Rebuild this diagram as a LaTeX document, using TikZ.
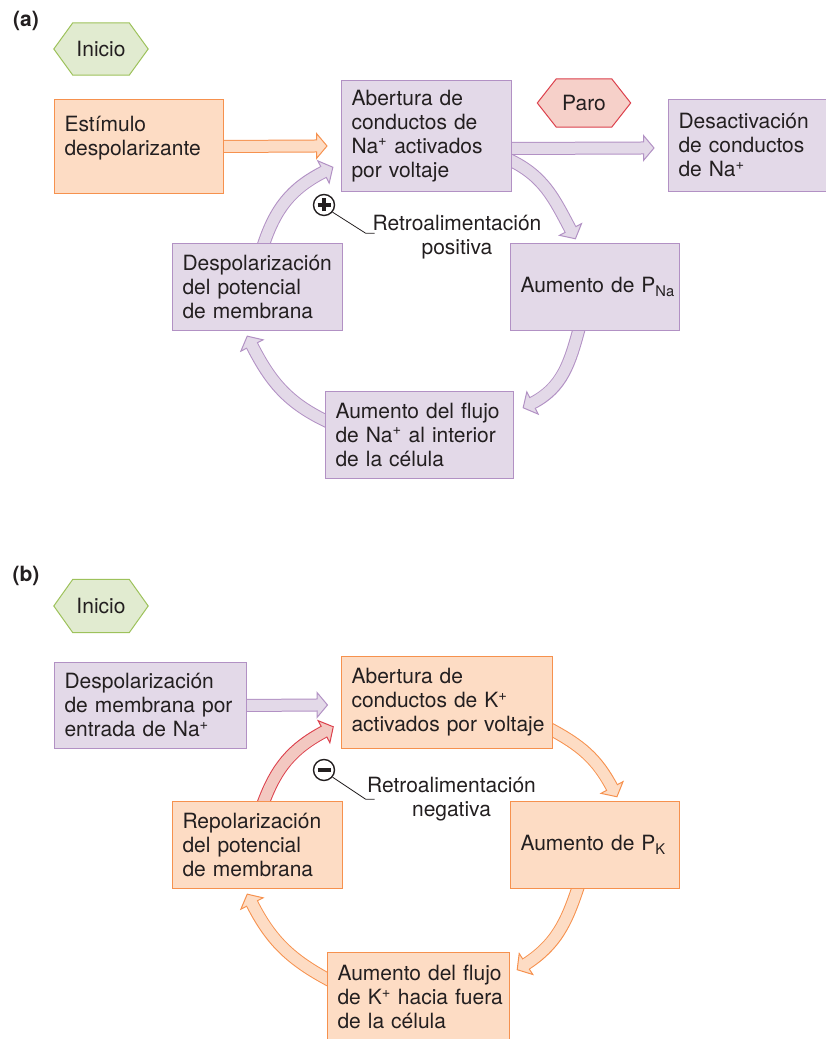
\documentclass[tikz,border=0pt]{standalone}
\usepackage{fontspec}
\setmainfont{TeX Gyre Heros}
\usetikzlibrary{backgrounds}

\definecolor{ink}{HTML}{231F20}
\definecolor{lilacfill}{HTML}{E3D9E8}
\definecolor{lilacline}{HTML}{B291C4}
\definecolor{peachfill}{HTML}{FDDCC4}
\definecolor{peachline}{HTML}{F6914E}
\definecolor{greenfill}{HTML}{E1EBD0}
\definecolor{greenline}{HTML}{9DC25B}
\definecolor{rosefill}{HTML}{F3C8C1}
\definecolor{stopfill}{HTML}{F6D0C9}
\definecolor{roseline}{HTML}{DC404C}

\hyphenpenalty=10000
\exhyphenpenalty=10000
\newcommand{\boxfont}{\fontsize{21}{24}\selectfont}

% flecha gruesa: estilo, inicio, conector, base de la punta, angulo de la punta
\newcommand{\fatarrow}[5]{%
  \draw[#1 rim, shorten <=-4pt] (#2) #3 (#4);
  \filldraw[#1 tip, shift={(#4)}, rotate=#5] (0,12.5) -- (10.5,0) -- (0,-12.5) -- cycle;
  \draw[#1 core, shorten <=-4pt, shorten >=-1.5pt] (#2) #3 (#4);
}
% contorno hexagonal alrededor de un nodo
\newcommand{\hexoutline}[3]{%
  \draw[#3] ([xshift=#2]#1.north west) -- ([xshift=-#2]#1.north east) -- (#1.east)
    -- ([xshift=-#2]#1.south east) -- ([xshift=#2]#1.south west) -- (#1.west) -- cycle;
}

\begin{document}
\begin{tikzpicture}[x=1pt, y=1pt,
  box/.style={draw, line width=1pt, anchor=north west, inner sep=0pt, align=left,
    text=ink, font=\boxfont},
  lilacbox/.style={box, fill=lilacfill, draw=lilacline},
  peachbox/.style={box, fill=peachfill, draw=peachline},
  hexlabel/.style={inner sep=0pt, text=ink, font=\boxfont},
  greenhex/.style={fill=greenfill, draw=greenline, line width=1pt, line join=miter},
  stophex/.style={fill=stopfill, draw=roseline, line width=1pt, line join=miter},
  panel/.style={inner sep=0pt, text=ink, font=\boxfont\bfseries},
  note/.style={inner sep=0pt, align=center, text=ink, font=\boxfont},
  sign/.style={circle, draw=ink, line width=1.4pt, minimum size=21pt, inner sep=0pt},
  signbar/.style={draw=ink, line width=3.2pt},
  leader/.style={draw=ink, line width=0.8pt},
  lilac rim/.style={draw=lilacline, line width=13pt},
  lilac core/.style={draw=lilacfill, line width=11pt},
  lilac tip/.style={fill=lilacfill, draw=lilacline, line width=1pt, line join=miter},
  peach rim/.style={draw=peachline, line width=13pt},
  peach core/.style={draw=peachfill, line width=11pt},
  peach tip/.style={fill=peachfill, draw=peachline, line width=1pt, line join=miter},
  rose rim/.style={draw=roseline, line width=13pt},
  rose core/.style={draw=rosefill, line width=11pt},
  rose tip/.style={fill=rosefill, draw=roseline, line width=1pt, line join=miter}]
  \useasboundingbox (0,0) rectangle (826,1039);
  \clip (0,0) rectangle (826,1039);

  % ---------- (a) ----------
  \node[panel] (lblA) at (26,1018) {(a)};
  \node[hexlabel, minimum width=94, minimum height=52] (iniA) at (101,990) {Inicio};
  \node[hexlabel, minimum width=93, minimum height=48] (paro) at (584,936) {Paro};

  \node[peachbox, minimum width=169, minimum height=94, text width=149] (estA) at (54,940)
    {Estímulo\\despolarizante\\[-3pt]\mbox{}};
  \node[lilacbox, minimum width=170, minimum height=111, text width=150] (abA) at (341,959)
    {Abertura de\\conductos de\\Na\textsuperscript{+} activados\\por voltaje};
  \node[lilacbox, minimum width=170, minimum height=92, text width=150] (desA) at (668,940)
    {Desactivación\\de conductos\\de Na\textsuperscript{+}};
  \node[lilacbox, minimum width=169, minimum height=87, text width=149] (pnaA) at (510,796)
    {\mbox{Aumento de P\textsubscript{Na}}};
  \node[lilacbox, minimum width=188, minimum height=87, text width=168] (fluA) at (325,648)
    {\mbox{Aumento del flujo}\\de Na\textsuperscript{+} al interior\\de la célula};
  \node[lilacbox, minimum width=170, minimum height=87, text width=150] (depA) at (172,796)
    {\mbox{Despolarización}\\del potencial\\de membrana};

  \node[sign] (sgnA) at (324,834) {};
  \draw[signbar] ([xshift=-6.5pt]sgnA.center) -- ([xshift=6.5pt]sgnA.center);
  \draw[signbar] ([yshift=-6.5pt]sgnA.center) -- ([yshift=6.5pt]sgnA.center);
  \node[note] (fbA) at (457,802) {Retroalimentación\\positiva};
  \draw[leader] (sgnA.-40) -- ++(33,-21) -- ++(9,0);

  % puntas y arranques de las flechas
  \coordinate (hEst) at (316.5,893);
  \coordinate (a2s) at ([yshift=-12.5pt]abA.east);
  \coordinate (hDes) at (643.5,891);
  \coordinate (a3s) at ([yshift=-25pt]abA.east);
  \coordinate (hPna) at (570.5,809.5);
  \coordinate (a4s) at ([xshift=-16.5pt]pnaA.south);
  \coordinate (hFluA) at (532.5,636);
  \coordinate (a5s) at ([yshift=14.5pt]fluA.west);
  \coordinate (hDepA) at (252,693.5);
  \coordinate (a6s) at ([xshift=6.5pt]depA.north);
  \coordinate (hAbA) at (323.5,867);

  % ---------- (b) ----------
  \node[panel] (lblB) at (26,463.5) {(b)};
  \node[hexlabel, minimum width=94, minimum height=53] (iniB) at (101,433) {Inicio};

  \node[lilacbox, minimum width=192, minimum height=86, text width=172] (depB) at (54,377)
    {Despolarización\\de membrana por\\entrada de Na\textsuperscript{+}};
  \node[peachbox, minimum width=211, minimum height=92, text width=191] (abB) at (341,383)
    {Abertura de\\conductos de K\textsuperscript{+}\\\mbox{activados por voltaje}};
  \node[peachbox, minimum width=169, minimum height=87, text width=149] (pkB) at (510,238)
    {\mbox{Aumento de P\textsubscript{K}}};
  \node[peachbox, minimum width=182, minimum height=89, text width=162] (fluB) at (327,87)
    {\mbox{Aumento del flujo}\\\mbox{de K\textsuperscript{+} hacia fuera}\\de la célula};
  \node[peachbox, minimum width=170, minimum height=87, text width=150] (repB) at (172,238)
    {Repolarización\\del potencial\\de membrana};

  \node[sign] (sgnB) at (324,269) {};
  \draw[signbar] ([xshift=-6.5pt]sgnB.center) -- ([xshift=6.5pt]sgnB.center);
  \node[note] (fbB) at (451.5,240) {Retroalimentación\\negativa};
  \draw[leader] (sgnB.-40) -- ++(33,-22) -- ++(9,0);

  \coordinate (hAbB) at (317,334);
  \coordinate (b3s) at ([yshift=-28pt]abB.east);
  \coordinate (hPk) at (612,251.5);
  \coordinate (b4s) at ([xshift=-17.5pt]pkB.south);
  \coordinate (hFluB) at (526,75);
  \coordinate (b5s) at ([yshift=-27pt]fluB.north west);
  \coordinate (hRep) at (252,135.5);
  \coordinate (b6s) at ([xshift=6.5pt]repB.north);
  \coordinate (hAbB2) at (324,307.3);

  \begin{scope}[on background layer]
    \hexoutline{iniA}{19}{greenhex}
    \hexoutline{paro}{19}{stophex}
    \hexoutline{iniB}{19}{greenhex}
    % lazo positivo
    \fatarrow{peach}{estA.east}{--}{hEst}{0}
    \fatarrow{lilac}{a2s}{--}{hDes}{0}
    \fatarrow{lilac}{a3s}{to[out=-25,in=118]}{hPna}{-62}
    \fatarrow{lilac}{a4s}{to[out=-105,in=27]}{hFluA}{207}
    \fatarrow{lilac}{a5s}{to[out=155,in=-63]}{hDepA}{117}
    \fatarrow{lilac}{a6s}{to[out=72,in=207]}{hAbA}{27}
    % lazo negativo
    \fatarrow{lilac}{depB.east}{--}{hAbB}{0}
    \fatarrow{peach}{b3s}{to[out=-28,in=118]}{hPk}{-62}
    \fatarrow{peach}{b4s}{to[out=-108,in=33]}{hFluB}{213}
    \fatarrow{peach}{b5s}{to[out=152,in=-63]}{hRep}{117}
    \fatarrow{rose}{b6s}{to[out=70,in=208]}{hAbB2}{28}
  \end{scope}
\end{tikzpicture}
\end{document}
